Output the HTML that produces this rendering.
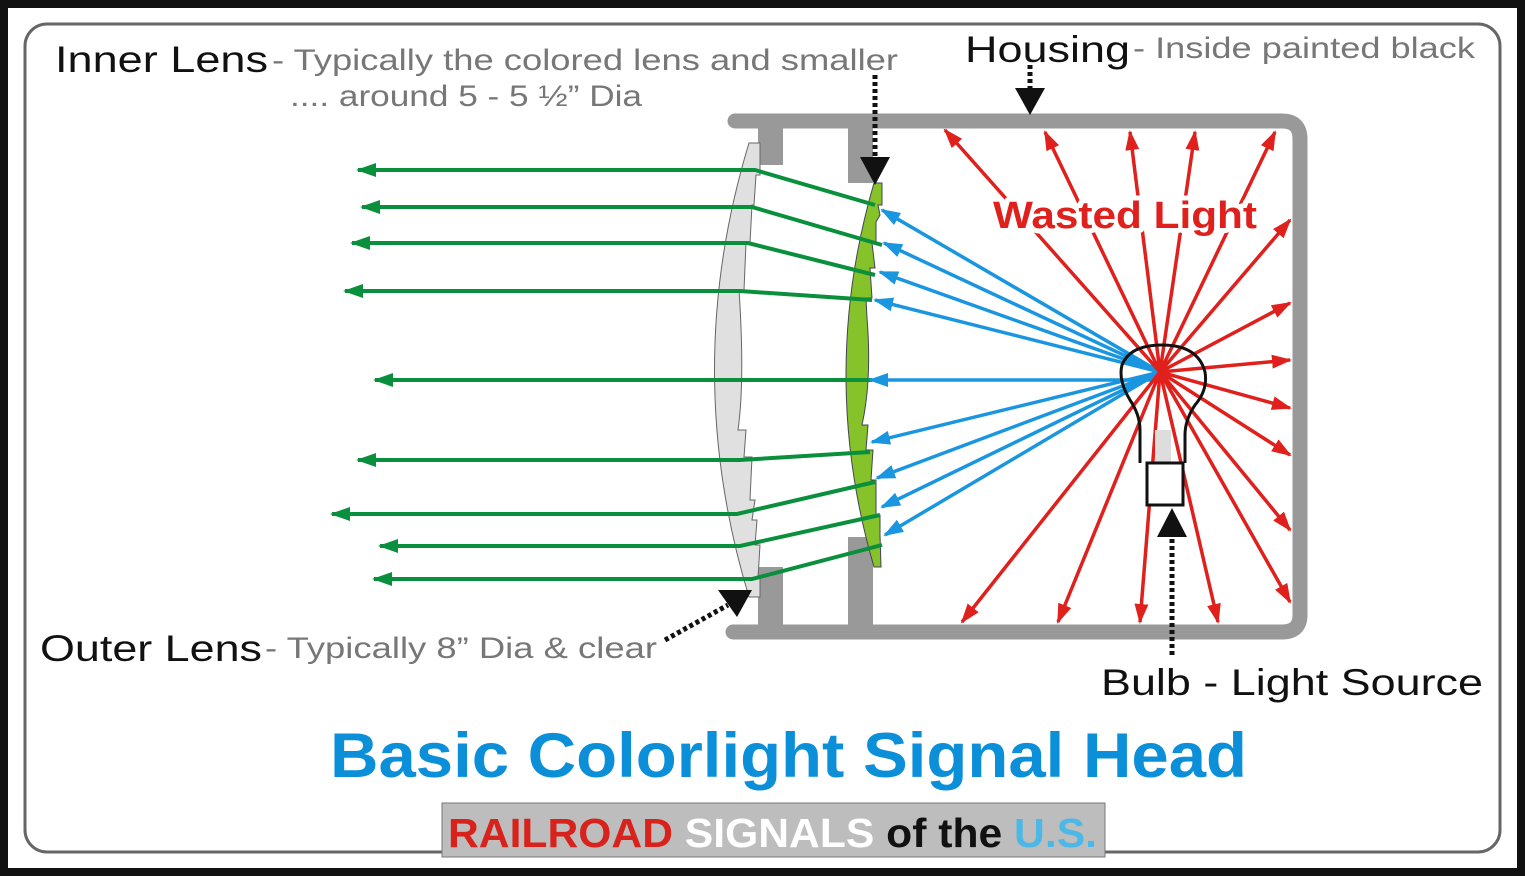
<!DOCTYPE html>
<html><head><style>
html,body{margin:0;padding:0;background:#fff}
svg{display:block}
text{font-family:"Liberation Sans",Arial,sans-serif}
</style></head><body>
<svg width="1525" height="876" viewBox="0 0 1525 876" xmlns="http://www.w3.org/2000/svg">
<defs>
<marker id="mg" viewBox="0 0 20 14" refX="18" refY="7" markerWidth="20" markerHeight="14" orient="auto" markerUnits="userSpaceOnUse"><path d="M0,0 L20,7 L0,14 Z" fill="#0a8f3c"/></marker>
<marker id="mb" viewBox="0 0 20 14" refX="18" refY="7" markerWidth="20" markerHeight="14" orient="auto" markerUnits="userSpaceOnUse"><path d="M0,0 L20,7 L0,14 Z" fill="#1a96e0"/></marker>
<marker id="mr" viewBox="0 0 20 14" refX="18" refY="7" markerWidth="20" markerHeight="14" orient="auto" markerUnits="userSpaceOnUse"><path d="M0,0 L20,7 L0,14 Z" fill="#e0201c"/></marker>
</defs>
<rect x="0" y="0" width="1525" height="876" fill="#111"/>
<rect x="8" y="8" width="1509" height="860" fill="#fff"/>
<rect x="25" y="24" width="1475" height="828" rx="22" fill="none" stroke="#666" stroke-width="3"/>

<!-- housing -->
<path d="M735,121 L1282,121 Q1300,121 1300,139 L1300,615 Q1300,632 1282,632 L733,632" fill="none" stroke="#999" stroke-width="15" stroke-linecap="round"/>
<rect x="758" y="121" width="25" height="44" fill="#999"/>
<rect x="758" y="567" width="25" height="65" fill="#999"/>
<rect x="848" y="121" width="25" height="62" fill="#999"/>
<rect x="848" y="537" width="25" height="95" fill="#999"/>

<!-- outer lens -->
<path d="M749,143 L760,143 L760,175 L756,175 L754,205 L752,205 L750,243 L746,243 L744,290 L739,290 Q745,380 738,430 L746,430 L744,457 L752,457 L750,500 L755,500 L752,520 L757,520 L755,545 L760,545 L758,578 L760,578 L760,597 L749,597 Q680,370 749,143 Z" fill="#e0e0e0" stroke="#666" stroke-width="1"/>
<!-- inner lens -->
<path d="M874,183 L882,183 L882,205 L878,205 L880,215 L876,222 L876,243 L872,243 L875,268 L870,268 L872,298 L866,298 L867,318 Q872,380 862,425 L868,425 L866,450 L873,450 L871,480 L876,480 L876,515 L880,515 L880,535 L881,567 L874,567 Q818,375 874,183 Z" fill="#86c22a" stroke="#445" stroke-width="1"/>

<!-- green rays -->
<g stroke="#0a8f3c" stroke-width="4" fill="none" marker-end="url(#mg)">
<polyline points="875,205 755,170 358,170"/>
<polyline points="882,245 752,207 362,207"/>
<polyline points="875,275 748,243 352,243"/>
<polyline points="872,300 740,291 345,291"/>
<polyline points="872,380 375,380"/>
<polyline points="870,452 740,460 358,460"/>
<polyline points="875,482 737,514 332,514"/>
<polyline points="880,515 740,546 380,546"/>
<polyline points="882,545 752,579 374,579"/>
</g>
<!-- blue rays -->
<g stroke="#1a96e0" stroke-width="3.5" fill="none" marker-end="url(#mb)">
<line x1="1160" y1="372" x2="882" y2="210"/>
<line x1="1160" y1="372" x2="884" y2="243"/>
<line x1="1160" y1="372" x2="880" y2="272"/>
<line x1="1160" y1="372" x2="875" y2="300"/>
<line x1="1160" y1="380" x2="870" y2="380"/>
<line x1="1160" y1="372" x2="872" y2="442"/>
<line x1="1160" y1="372" x2="877" y2="478"/>
<line x1="1160" y1="372" x2="882" y2="507"/>
<line x1="1160" y1="372" x2="885" y2="535"/>
</g>
<!-- red rays -->
<g stroke="#e0201c" stroke-width="3.5" fill="none" marker-end="url(#mr)">
<line x1="1160" y1="372" x2="945" y2="130"/>
<line x1="1160" y1="372" x2="1045" y2="132"/>
<line x1="1160" y1="372" x2="1130" y2="132"/>
<line x1="1160" y1="372" x2="1195" y2="132"/>
<line x1="1160" y1="372" x2="1275" y2="132"/>
<line x1="1160" y1="372" x2="1290" y2="220"/>
<line x1="1160" y1="372" x2="1290" y2="303"/>
<line x1="1160" y1="372" x2="1290" y2="360"/>
<line x1="1160" y1="372" x2="1290" y2="408"/>
<line x1="1160" y1="372" x2="1290" y2="455"/>
<line x1="1160" y1="372" x2="1290" y2="530"/>
<line x1="1160" y1="372" x2="1290" y2="602"/>
<line x1="1160" y1="372" x2="1218" y2="622"/>
<line x1="1160" y1="372" x2="1140" y2="622"/>
<line x1="1160" y1="372" x2="1058" y2="622"/>
<line x1="1160" y1="372" x2="962" y2="622"/>
</g>
<text x="993" y="228" font-size="38" font-weight="bold" fill="#e0201c" stroke="#fff" stroke-width="10" paint-order="stroke" stroke-linejoin="round" textLength="264" lengthAdjust="spacingAndGlyphs">Wasted Light</text>

<!-- bulb -->
<path d="M1140,463 L1140,430 Q1140,415 1130,400 Q1118,380 1122,365 Q1130,345 1162,345 Q1198,345 1205,372 Q1208,390 1195,405 Q1185,420 1185,435 L1185,463" fill="none" stroke="#111" stroke-width="3"/>
<rect x="1155" y="430" width="16" height="33" fill="#ddd"/>
<rect x="1147" y="463" width="36" height="42" fill="#fff" stroke="#111" stroke-width="3"/>

<!-- pointers -->
<g stroke="#111" stroke-width="5" stroke-dasharray="4,3" fill="none">
<line x1="875" y1="75" x2="875" y2="160"/>
<line x1="1030" y1="65" x2="1030" y2="92"/>
<line x1="1172" y1="655" x2="1172" y2="535"/>
<line x1="665" y1="640" x2="728" y2="605"/>
</g>
<path d="M860,157 L890,157 L875,185 Z" fill="#111"/>
<path d="M1015,88 L1045,88 L1030,115 Z" fill="#111"/>
<path d="M1157,537 L1187,537 L1172,508 Z" fill="#111"/>
<path d="M718,590 L752,590 L737,617 Z" fill="#111"/>

<!-- labels -->
<text x="55" y="72" font-size="37" fill="#111" textLength="213" lengthAdjust="spacingAndGlyphs">Inner Lens</text>
<text x="272" y="70" font-size="30" fill="#777" textLength="626" lengthAdjust="spacingAndGlyphs">- Typically the colored lens and smaller</text>
<text x="290" y="106" font-size="30" fill="#777" textLength="352" lengthAdjust="spacingAndGlyphs">.... around 5 - 5 ½” Dia</text>
<text x="965" y="62" font-size="37" fill="#111" textLength="165" lengthAdjust="spacingAndGlyphs">Housing</text>
<text x="1133" y="58" font-size="30" fill="#777" textLength="342" lengthAdjust="spacingAndGlyphs">- Inside painted black</text>
<text x="40" y="661" font-size="37" fill="#111" textLength="222" lengthAdjust="spacingAndGlyphs">Outer Lens</text>
<text x="265" y="658" font-size="30" fill="#777" textLength="392" lengthAdjust="spacingAndGlyphs">- Typically 8” Dia &amp; clear</text>
<text x="1101" y="695" font-size="37" fill="#111" textLength="382" lengthAdjust="spacingAndGlyphs">Bulb - Light Source</text>
<text x="330" y="777" font-size="63" font-weight="bold" fill="#0a8fd8" textLength="917" lengthAdjust="spacingAndGlyphs">Basic Colorlight Signal Head</text>

<rect x="442" y="803" width="663" height="54" fill="#bdbdbd" stroke="#777" stroke-width="1"/>
<text x="448" y="847" font-size="41" font-weight="bold" fill="#d8221c" textLength="649" lengthAdjust="spacingAndGlyphs">RAILROAD <tspan fill="#fff">SIGNALS</tspan> <tspan fill="#111">of the</tspan> <tspan fill="#4cb8e8">U.S.</tspan></text>
</svg>
</body></html>
